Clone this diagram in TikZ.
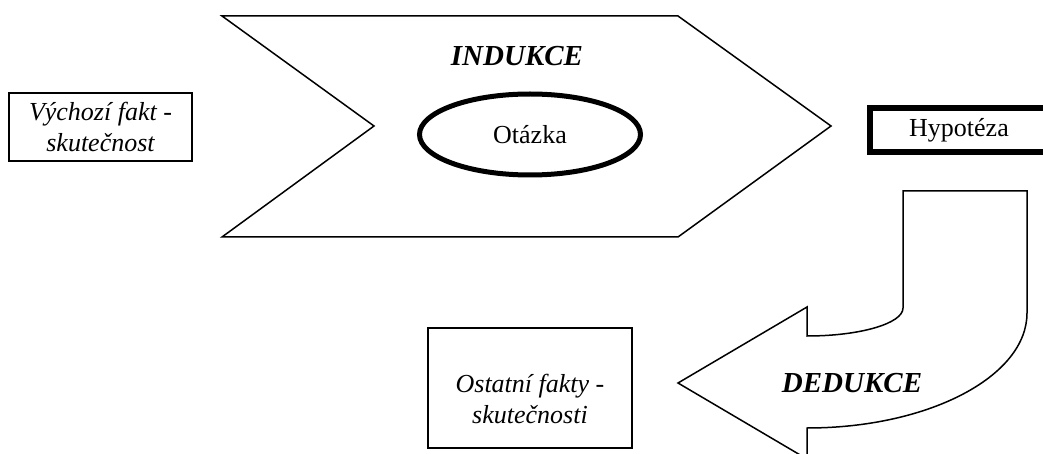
\documentclass[tikz,border=0pt]{standalone}
\usepackage{fontspec}
\setmainfont{Liberation Serif}
\usetikzlibrary{shapes.geometric}
\begin{document}
\begin{tikzpicture}[x=1pt,y=-1pt,
  thinline/.style={line width=1.5pt},
  txt/.style={font=\fontsize{26}{31}\selectfont},
  ittxt/.style={align=center,inner sep=0pt,font=\fontsize{26}{31}\selectfont\itshape},
  titletxt/.style={inner sep=0pt,font=\fontsize{29}{34}\selectfont\bfseries\itshape},
  boxnode/.style={draw,thinline,inner sep=0pt}]
\useasboundingbox (0,0) rectangle (1043,454);
\clip (0,0) rectangle (1043,454);
% induction chevron
\draw[thinline,line join=miter] (222,16) -- (678,16) -- (831,126) -- (678,237) -- (222,237) -- (374,126) -- cycle;
\node[titletxt] (ind) at (517,56) {INDUKCE};
\node[ellipse,draw,line width=5pt,minimum width=221pt,minimum height=81pt,inner sep=0pt,txt] (q) at (530,134.5) {Otázka};
% left box
\node[boxnode,ittxt,minimum width=183pt,minimum height=68pt] (fact) at (100.5,127) {Výchozí fakt -\\skutečnost};
% hypothesis box
\node[draw,line width=6pt,minimum width=178pt,minimum height=44pt,inner sep=0pt,txt] (hyp) at (959,130) {Hypotéza};
% deduction arrow
\draw[thinline,line join=miter] (903,191) -- (1027,191) -- (1027,313)
  .. controls (1027,376.5) and (928.5,428) .. (807,428)
  -- (807,459) -- (678,383) -- (807,307) -- (807,336)
  .. controls (860,336) and (903,323.5) .. (903,308) -- cycle;
\node[titletxt] (ded) at (852,383) {DEDUKCE};
% other facts box
\node[boxnode,minimum width=204pt,minimum height=120pt] (other) at (530,388) {};
\node[ittxt] (othertext) at (530,399) {Ostatní fakty -\\skutečnosti};
\end{tikzpicture}
\end{document}
